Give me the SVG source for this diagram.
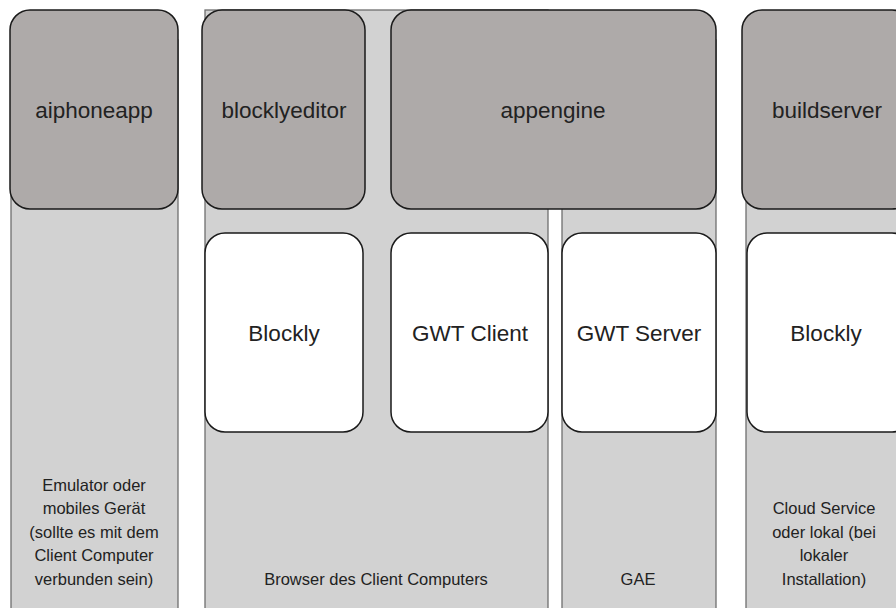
<svg xmlns="http://www.w3.org/2000/svg" width="896" height="608" viewBox="0 0 896 608">
<style>
.lane{fill:#d2d2d2;stroke:#6f6f6f;stroke-width:1.3}
.head{fill:#aeaaa9;stroke:#1a1a1a;stroke-width:1.5}
.comp{fill:#ffffff;stroke:#1a1a1a;stroke-width:1.5}
text{font-family:"Liberation Sans",Arial,sans-serif;fill:#222222;text-anchor:middle}
.big{font-size:22.5px}
.small{font-size:16.5px}
</style>
<rect width="896" height="608" fill="#ffffff"/>
<g id="lanes">
<rect id="lane-phone" class="lane" x="11" y="40" width="167" height="580"/>
<rect id="lane-browser" class="lane" x="205" y="10" width="343" height="610"/>
<rect id="lane-gae" class="lane" x="562" y="40" width="154" height="580"/>
<rect id="lane-build" class="lane" x="746" y="40" width="170" height="580"/>
</g>
<g id="connectors"></g>
<g id="aiphoneapp">
<rect class="head" x="10" y="10" width="168" height="199" rx="20"/>
<text class="big" x="94" y="118">aiphoneapp</text>
</g>
<g id="blocklyeditor">
<rect class="head" x="202" y="10" width="163" height="199" rx="20"/>
<text class="big" x="284" y="118">blocklyeditor</text>
</g>
<g id="appengine">
<rect class="head" x="391" y="10" width="325" height="199" rx="20"/>
<text class="big" x="553" y="118">appengine</text>
</g>
<g id="buildserver">
<rect class="head" x="742" y="10" width="170" height="199" rx="20"/>
<text class="big" x="827" y="118">buildserver</text>
</g>
<g id="blockly-client">
<rect class="comp" x="205" y="233" width="158" height="199" rx="20"/>
<text class="big" x="284" y="341">Blockly</text>
</g>
<g id="gwt-client">
<rect class="comp" x="391" y="233" width="157" height="199" rx="20"/>
<text class="big" x="470" y="341">GWT Client</text>
</g>
<g id="gwt-server">
<rect class="comp" x="562" y="233" width="154" height="199" rx="20"/>
<text class="big" x="639" y="341">GWT Server</text>
</g>
<g id="blockly-build">
<rect class="comp" x="747" y="233" width="165" height="199" rx="20"/>
<text class="big" x="826" y="341">Blockly</text>
</g>
<g id="lane-labels">
<text class="small" x="94"><tspan x="94" y="491">Emulator oder</tspan><tspan x="94" y="514">mobiles Gerät</tspan><tspan x="94" y="538">(sollte es mit dem</tspan><tspan x="94" y="561">Client Computer</tspan><tspan x="94" y="585">verbunden sein)</tspan></text>
<text class="small" x="376" y="585">Browser des Client Computers</text>
<text class="small" x="638" y="585">GAE</text>
<text class="small" x="824"><tspan x="824" y="514">Cloud Service</tspan><tspan x="824" y="538">oder lokal (bei</tspan><tspan x="824" y="561">lokaler</tspan><tspan x="824" y="585">Installation)</tspan></text>
</g>
</svg>
